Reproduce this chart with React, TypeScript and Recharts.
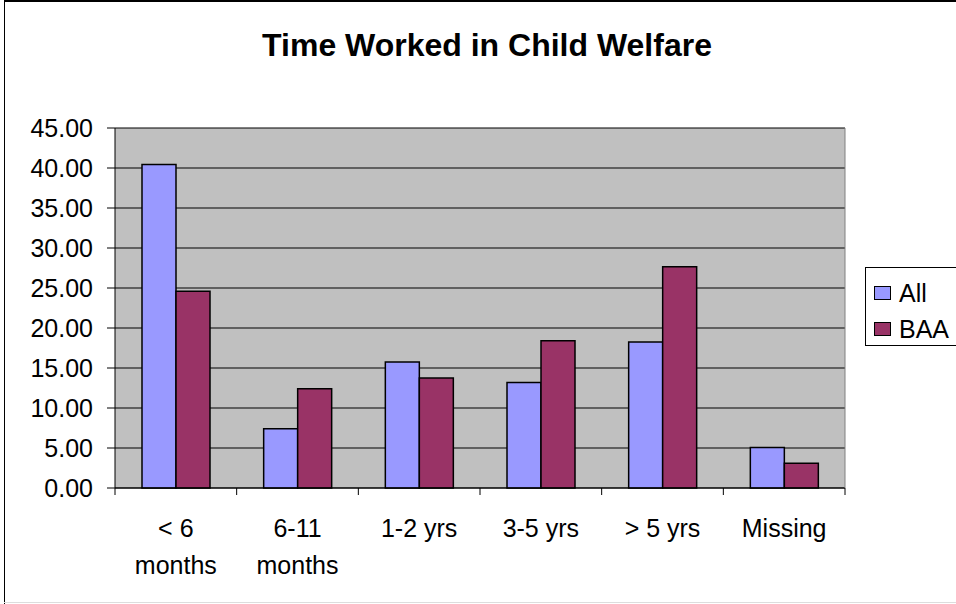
import { Bar, BarChart, CartesianGrid, XAxis, YAxis } from "recharts";

const CATEGORIES = ["< 6 months", "6-11 months", "1-2 yrs", "3-5 yrs", "> 5 yrs", "Missing"];
const ALL = [40.45, 7.4, 15.75, 13.2, 18.25, 5.05];
const BAA = [24.6, 12.4, 13.75, 18.4, 27.65, 3.1];
const Y_TICKS = [0, 5, 10, 15, 20, 25, 30, 35, 40, 45];
const SERIES = [
  { key: "All", color: "#9999FF" },
  { key: "BAA", color: "#993366" },
];

const FONT = '"Liberation Sans", Arial, sans-serif';

const rows = CATEGORIES.map((name, i) => ({ name, All: ALL[i], BAA: BAA[i] }));

// Excel style: tick marks sit between categories, long labels wrap to two lines
function CategoryTick(props: any) {
  const { x, y, payload, index, visibleTicksCount, width } = props;
  const half = width / visibleTicksCount / 2;
  const label: string = String(payload.value);
  const cut = label.lastIndexOf(" ");
  const lines = label.length > 8 && cut > 0 ? [label.slice(0, cut), label.slice(cut + 1)] : [label];
  return (
    <g>
      <line x1={x - half} x2={x - half} y1={y} y2={y + 7} stroke="#000" />
      {index === visibleTicksCount - 1 && (
        <line x1={x + half} x2={x + half} y1={y} y2={y + 7} stroke="#000" />
      )}
      <text x={x} y={y} textAnchor="middle" fontSize={25} fill="#000" fontFamily={FONT}>
        {lines.map((l, i) => (
          <tspan key={i} x={x} y={y + 49 + i * 37}>
            {l}
          </tspan>
        ))}
      </text>
    </g>
  );
}

function LegendBox() {
  return (
    <div
      style={{
        position: "absolute",
        left: 865,
        top: 267,
        border: "1px solid #000",
        background: "#fff",
        width: 100,
        height: 79,
        boxSizing: "border-box",
        fontFamily: FONT,
        fontSize: 25,
        paddingTop: 7,
        paddingLeft: 8,
      }}
    >
      {SERIES.map((s) => (
        <div key={s.key} style={{ display: "flex", alignItems: "center", height: 36 }}>
          <span
            style={{
              width: 15,
              height: 12,
              background: s.color,
              border: "1.5px solid #000",
              marginRight: 8,
            }}
          />
          <span>{s.key}</span>
        </div>
      ))}
    </div>
  );
}

export default function App() {
  return (
    <div
      style={{
        position: "absolute",
        left: 0,
        top: 0,
        width: 956,
        height: 604,
        background: "#fff",
        fontFamily: FONT,
        overflow: "hidden",
      }}
    >
      <div style={{ position: "absolute", left: 4, top: 0, width: 1, height: 604, background: "#000" }} />
      <div style={{ position: "absolute", left: 4, top: 0, width: 952, height: 2, background: "#000" }} />
      <div style={{ position: "absolute", left: 4, top: 602, width: 952, height: 1, background: "#ddd" }} />
      <div
        style={{
          position: "absolute",
          left: 4,
          width: 966,
          top: 27,
          textAlign: "center",
          fontSize: 32,
          fontWeight: "bold",
          color: "#000",
        }}
      >
        Time Worked in Child Welfare
      </div>
      <BarChart
        width={956}
        height={604}
        data={rows}
        margin={{ top: 128, right: 110, bottom: 0, left: 0 }}
        barCategoryGap={27}
        barGap={0}
        style={{ position: "absolute", left: 0, top: 0 }}
      >
        <CartesianGrid vertical={false} stroke="#000" fill="#C0C0C0" fillOpacity={1} />
        <XAxis
          dataKey="name"
          height={116}
          tickSize={0}
          tickMargin={0}
          tickLine={false}
          axisLine={{ stroke: "#000" }}
          interval={0}
          tick={<CategoryTick />}
        />
        <YAxis
          domain={[0, 45]}
          ticks={Y_TICKS}
          interval={0}
          width={115}
          tickSize={8}
          tickMargin={14}
          tickLine={{ stroke: "#000" }}
          axisLine={{ stroke: "#000" }}
          tick={{ fontSize: 25, fill: "#000", fontFamily: FONT }}
          tickFormatter={(v) => Number(v).toFixed(2)}
        />
        <YAxis
          yAxisId="right"
          orientation="right"
          domain={[0, 45]}
          ticks={Y_TICKS}
          width={1}
          tick={false}
          tickLine={false}
          axisLine={{ stroke: "#808080" }}
        />
        {SERIES.map((s) => (
          <Bar
            key={s.key}
            dataKey={s.key}
            fill={s.color}
            stroke="#000"
            strokeWidth={1.5}
            isAnimationActive={false}
          />
        ))}
      </BarChart>
      <LegendBox />
    </div>
  );
}
